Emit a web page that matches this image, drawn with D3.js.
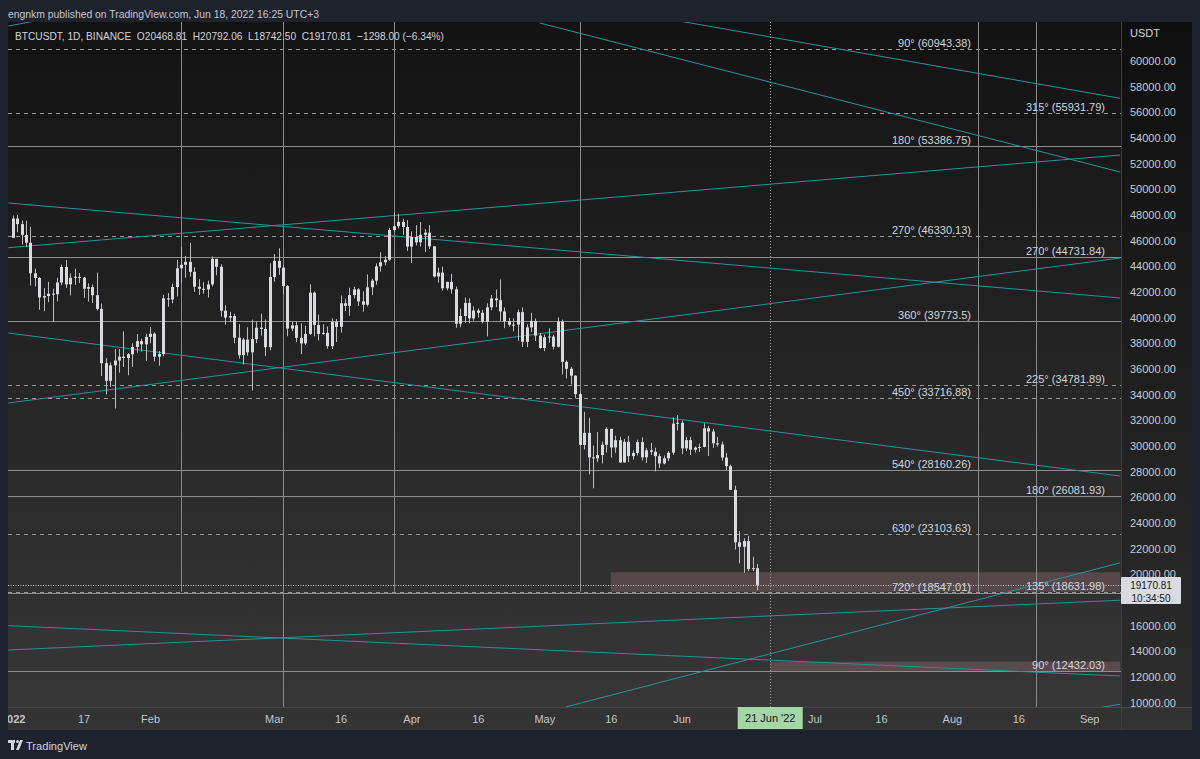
<!DOCTYPE html>
<html><head><meta charset="utf-8">
<script src="https://cdn.jsdelivr.net/npm/d3@7"></script>
<style>
html,body{margin:0;padding:0;background:#1e222d;}
svg{display:block;font-family:"Liberation Sans",Arial,sans-serif;}
</style></head><body>
<svg id="c" width="1200" height="759"></svg>
<script>
// ---------------- DATA ----------------
const firstDay = "2022-01-01"; // one daily candle per day from here
const opens = [
46217,47722,47286,46446,45833,43451,43082,41566,41680,41864,41822,42736,43950,42592,43099,43177,43114,42250,42375,41744,40680,36445,35071,36276,36654,36954,36852,37138,37712,38166,37918,
38498,38743,36952,37154,41500,41412,42380,43840,44118,44338,43565,42407,42244,42197,42586,44575,43961,40538,40000,40117,38431,37075,38286,37296,38328,39219,39116,37700,
43160,44421,43892,42454,39148,39398,38420,37988,38730,41941,39422,38730,38807,37777,39671,39280,41114,40917,41757,42201,41262,41002,42364,42882,43991,44313,44511,46827,47128,47465,47062,
45538,46281,45868,46453,46622,45555,43206,43503,42287,42782,42207,39521,40127,41147,39942,40552,40378,39678,40801,41493,41358,40480,39709,39441,39450,40426,38112,39235,39742,38596,
37630,38468,38525,37728,39690,36552,36013,35472,34038,30076,31017,29103,29029,29287,30086,31328,29874,30444,28715,30319,29201,29445,30293,29109,29655,29542,29201,28629,29031,29468,31734,
31801,29805,30452,29700,29864,29920,31373,31125,30204,30109,29091,28424,26574,22488,22136,22584,20401,20468.81];
const highs = [
47954,47990,47570,47557,47070,43816,43145,42300,42787,42249,43100,44135,44500,43448,43800,43476,43179,42662,42579,43505,41100,36836,36500,37550,37545,38920,37234,38000,38720,38359,38738,
39265,38855,37387,41772,41914,42656,44500,45492,44798,45821,43920,43000,42760,42876,44769,44583,44164,40959,40444,40300,39494,38429,39249,39843,39683,40300,39855,44225,
44950,45400,44102,42527,39693,39680,39547,39362,42594,42040,40236,39486,39310,39947,39887,41718,41478,42325,42400,42296,42048,43361,43025,44220,45094,44792,46999,48189,48096,47700,47600,
46720,47213,47444,46890,47200,45555,43900,43970,42800,43410,42414,40699,41561,41500,40870,40709,40595,41116,41760,42199,42976,40795,39980,39940,40617,40797,39474,40372,39925,38795,
38675,39167,38651,40023,39845,36666,36146,35510,34243,32659,32190,30032,31083,30343,31460,31328,30788,30709,30545,30777,29656,30487,30670,29837,30223,29856,29397,29250,29597,32222,32399,
31982,30690,30699,29955,30189,31765,31557,31330,30700,30334,29440,28544,26895,23362,22800,22985,21365,20792.06];
const lows = [
46208,46654,45696,45500,42500,42430,40611,40501,41200,39650,41268,42528,42311,41725,42555,42691,41541,41250,41139,40553,35440,34009,34602,32918,35702,36151,35507,36155,37268,37351,36633,
38000,36586,36250,36985,40843,41116,41645,42667,43117,43188,42000,41766,41870,41570,42428,43310,40073,39450,39639,38000,36800,36350,37036,34323,38015,38600,37000,37451,
42810,43334,41832,38550,38940,38087,37155,37867,38656,38540,38223,38660,37578,37555,38098,38828,40500,40135,41499,40911,40467,40875,41751,42560,43579,44071,44422,46663,46950,46445,45200,
44255,45620,45530,45118,45353,43121,42727,42107,42126,41868,39200,39254,39588,39551,39766,39991,39546,38536,40571,40820,39751,39177,39285,38929,38200,37702,37697,38881,38175,37578,
37386,38052,37517,37670,35571,35258,34785,33713,30033,29730,27785,26700,28751,28630,29480,29087,29450,28654,28691,28730,28947,29255,28866,28669,29294,28019,28282,28566,28815,29300,31200,
29360,29594,29282,29485,29531,29890,29218,29843,29944,28850,28100,26560,21925,20846,20111,20232,20246,18742.50];
const closes = [
47722,47286,46446,45833,43451,43082,41566,41680,41864,41822,42736,43950,42592,43099,43177,43114,42250,42375,41744,40680,36445,35071,36276,36654,36954,36852,37138,37712,38166,37918,38498,
38743,36952,37154,41500,41412,42380,43840,44118,44338,43565,42407,42244,42197,42586,44575,43961,40538,40000,40117,38431,37075,38286,37296,38328,39219,39116,37700,43160,
44421,43892,42454,39148,39398,38420,37988,38730,41941,39422,38730,38807,37777,39671,39280,41114,40917,41757,42201,41262,41002,42364,42882,43991,44313,44511,46827,47128,47465,47062,45538,
46281,45868,46453,46622,45555,43206,43503,42287,42782,42207,39521,40127,41147,39942,40552,40378,39678,40801,41493,41358,40480,39709,39441,39450,40426,38112,39235,39742,38596,37630,
38468,38525,37728,39690,36552,36013,35472,34038,30076,31017,29103,29029,29287,30086,31328,29874,30444,28715,30319,29201,29445,30293,29109,29655,29542,29201,28629,29031,29468,31734,31801,
29805,30452,29700,29864,29920,31373,31125,30204,30109,29091,28424,26574,22488,22136,22584,20401,20468,19170.81];

// 18000 is hidden behind the last-price box in the reference
const priceTicks = [10000,12000,14000,16000,20000,22000,24000,26000,28000,30000,32000,34000,36000,38000,40000,42000,44000,46000,48000,50000,52000,54000,56000,58000,60000];
const timeTickDates = ["2022-01-01","2022-01-17","2022-02-01","2022-03-01","2022-03-16","2022-04-01","2022-04-16","2022-05-01","2022-05-16","2022-06-01","2022-07-01","2022-07-16","2022-08-01","2022-08-16","2022-09-01"];
const timeTickLabels = ["2022","17","Feb","Mar","16","Apr","16","May","16","Jun","Jul","16","Aug","16","Sep"];

// Gann levels: value, label, dashed?, column
const levelValues = [60943.38,53386.75,46330.13,39773.5,33716.88,28160.26,23103.63,18547.01, 55931.79,44731.84,34781.89,26081.93,18631.98,12432.03];
const levelLabels = ["90° (60943.38)","180° (53386.75)","270° (46330.13)","360° (39773.5)","450° (33716.88)","540° (28160.26)","630° (23103.63)","720° (18547.01)",
                     "315° (55931.79)","270° (44731.84)","225° (34781.89)","180° (26081.93)","135° (18631.98)","90° (12432.03)"];
const levelDashed = [true,false,true,false,true,false,true,false, true,false,true,false,true,false];
const levelColumn = [0,0,0,0,0,0,0,0, 1,1,1,1,1,1];

// vertical time lines (date, lowest price reached; null = full height)
const vLineDates = ["2022-02-08","2022-03-03","2022-03-28","2022-05-09","2022-08-07","2022-08-20"];
const vLineBottoms = [18632,null,18632,18632,18632,null];

// trend lines: [startDate, startPrice, endDate, endPrice]
const trendLines = [
  ["2022-04-30",62960,"2022-09-08",51347],
  ["2022-06-01",63085,"2022-09-08",57091],
  ["2021-12-31",45447,"2022-09-08",52672],
  ["2021-12-31",48931,"2022-09-08",41527],
  ["2021-12-31",33343,"2022-09-08",44644],
  ["2021-12-31",38799,"2022-09-08",27653],
  ["2022-05-06",9665,"2022-09-08",20888],
  ["2021-12-31",14092,"2022-09-08",17973],
  ["2021-12-31",15986,"2022-09-08",12065],
  ["2022-08-30",9361,"2022-09-08",9860],
  ["2021-12-31",62727,"2022-01-11",63428]
];

// shaded zones
const zoneStarts = ["2022-05-16","2022-06-21"];
const zoneTops = [20150,13180];
const zoneBottoms = [18632,12432];

const lastPrice = 19170.81;
const crossDate = "2022-06-21";

// ---------------- CHART ----------------
const svg = d3.select("#c");
const P = {x0:8, x1:1121, y0:22, y1:707, ax1:1192, tb:730};
const parse = d3.utcParse("%Y-%m-%d");
const day0 = parse(firstDay);
const x = d3.scaleUtc().domain([parse("2022-01-01"), parse("2022-09-01")]).range([12.7, 12.7 + 243*4.43]);
const y = d3.scaleLinear().domain([10000, 60000]).range([702.5, 61]);

const defs = svg.append("defs");
const grad = defs.append("linearGradient").attr("id","bg").attr("x1",0).attr("y1",0).attr("x2",0).attr("y2",1);
grad.append("stop").attr("offset","0%").attr("stop-color","#121212");
grad.append("stop").attr("offset","100%").attr("stop-color","#383838");
defs.append("clipPath").attr("id","plotclip").append("rect")
  .attr("x",P.x0).attr("y",P.y0).attr("width",P.x1-P.x0).attr("height",P.y1-P.y0);
defs.append("clipPath").attr("id","timeclip").append("rect")
  .attr("x",P.x0).attr("y",P.y1).attr("width",P.x1-P.x0).attr("height",P.tb-P.y1);

svg.append("rect").attr("width",1200).attr("height",759).attr("fill","#1e222d");
svg.append("rect").attr("x",P.x0).attr("y",P.y0).attr("width",P.ax1-P.x0).attr("height",P.tb-P.y0).attr("fill","url(#bg)");
svg.append("rect").attr("x",P.x1).attr("y",P.y0).attr("width",P.ax1-P.x1).attr("height",P.y1-P.y0).attr("fill","rgba(0,0,0,0.18)");
svg.append("rect").attr("x",P.x0).attr("y",P.y1).attr("width",P.ax1-P.x0).attr("height",P.tb-P.y1).attr("fill","rgba(0,0,0,0.08)");
svg.append("line").attr("x1",P.x1+0.5).attr("x2",P.x1+0.5).attr("y1",P.y0).attr("y2",P.tb).attr("stroke","#3c3c3c");
svg.append("line").attr("x1",P.x0).attr("x2",P.ax1).attr("y1",P.y1+0.5).attr("y2",P.y1+0.5).attr("stroke","#484848");

const plot = svg.append("g").attr("clip-path","url(#plotclip)");
const rightEdge = parse("2022-09-08");

// zones
plot.selectAll("rect.zone").data(zoneStarts).join("rect").attr("class","zone")
  .attr("x",d=>x(parse(d))).attr("width",(d)=>x(rightEdge)-x(parse(d)))
  .attr("y",(d,i)=>y(zoneTops[i])).attr("height",(d,i)=>y(zoneBottoms[i])-y(zoneTops[i]))
  .attr("fill","rgba(150,110,118,0.38)");

// horizontal levels
plot.selectAll("line.lvl").data(levelValues).join("line").attr("class","lvl")
  .attr("x1",P.x0).attr("x2",P.x1)
  .attr("y1",d=>Math.round(y(d))+0.5).attr("y2",d=>Math.round(y(d))+0.5)
  .attr("stroke",(d,i)=>levelDashed[i]?"#9a9a9a":"#8e8e8e")
  .attr("stroke-dasharray",(d,i)=>levelDashed[i]?"4,4":null);

// vertical lines
plot.selectAll("line.vl").data(vLineDates).join("line").attr("class","vl")
  .attr("x1",d=>Math.round(x(parse(d)))+0.5).attr("x2",d=>Math.round(x(parse(d)))+0.5)
  .attr("y1",P.y0).attr("y2",(d,i)=>vLineBottoms[i]==null?P.y1:y(vLineBottoms[i]))
  .attr("stroke","#8a8a8a");

// crosshair
plot.append("line").attr("x1",Math.round(x(parse(crossDate)))+0.5).attr("x2",Math.round(x(parse(crossDate)))+0.5)
  .attr("y1",P.y0).attr("y2",P.y1).attr("stroke","#9a9a9a").attr("stroke-dasharray","1,2");

// trend lines
plot.selectAll("line.tl").data(trendLines).join("line").attr("class","tl")
  .attr("x1",d=>x(parse(d[0]))).attr("y1",d=>y(d[1]))
  .attr("x2",d=>x(parse(d[2]))).attr("y2",d=>y(d[3]))
  .attr("stroke","#2a9298").attr("stroke-width",1);

// last price dotted line
plot.append("line").attr("x1",P.x0).attr("x2",P.x1)
  .attr("y1",Math.round(y(lastPrice))+0.5).attr("y2",Math.round(y(lastPrice))+0.5)
  .attr("stroke","#c8c8c8").attr("stroke-dasharray","1,1.5");

// candles
const candles = closes.map((c,i)=>({d:d3.utcDay.offset(day0,i),o:opens[i],h:highs[i],l:lows[i],c:c}));
const cg = plot.append("g");
cg.selectAll("line.wick").data(candles).join("line").attr("class","wick")
  .attr("x1",d=>Math.round(x(d.d))+0.5).attr("x2",d=>Math.round(x(d.d))+0.5)
  .attr("y1",d=>y(d.h)).attr("y2",d=>y(d.l)).attr("stroke","#bdbdbd");
cg.selectAll("rect.body").data(candles).join("rect").attr("class","body")
  .attr("x",d=>Math.round(x(d.d))-1).attr("width",3)
  .attr("y",d=>y(Math.max(d.o,d.c))).attr("height",d=>Math.max(1,Math.abs(y(d.o)-y(d.c))))
  .attr("fill","#dadbde");

// level labels
plot.selectAll("text.lbl").data(levelValues).join("text").attr("class","lbl")
  .attr("x",(d,i)=>levelColumn[i]===0?971:1105)
  .attr("y",d=>y(d)-2)
  .attr("text-anchor","end").attr("font-size",11).attr("fill","#d1d4dc")
  .text((d,i)=>levelLabels[i]);

// price axis
const ya = svg.append("g").attr("transform",`translate(${P.x1},0)`)
  .call(d3.axisRight(y).tickValues(priceTicks).tickFormat(d=>d.toFixed(2)).tickSize(0).tickPadding(9));
ya.select(".domain").remove();
ya.selectAll("text").attr("fill","#c9cbd1").attr("font-size",11).attr("font-family","Liberation Sans, Arial, sans-serif");
svg.append("text").attr("x",1130).attr("y",37).attr("font-size",11).attr("fill","#d1d4dc").text("USDT");

// last price box
svg.append("rect").attr("x",1121).attr("y",577).attr("width",60).attr("height",27).attr("fill","#d9dbe0").attr("rx",1);
svg.append("text").attr("x",1151).attr("y",589).attr("text-anchor","middle").attr("font-size",10).attr("fill","#131722").text(lastPrice.toFixed(2));
svg.append("text").attr("x",1151).attr("y",601.5).attr("text-anchor","middle").attr("font-size",10).attr("fill","#131722").text("10:34:50");

// time axis
const xa = svg.append("g").attr("clip-path","url(#timeclip)").append("g").attr("transform",`translate(0,${P.y1})`)
  .call(d3.axisBottom(x).tickValues(timeTickDates.map(parse)).tickFormat((d,i)=>timeTickLabels[i]).tickSize(0).tickPadding(8));
xa.select(".domain").remove();
xa.selectAll("text").attr("fill","#c2c4ca").attr("font-size",11).attr("font-family","Liberation Sans, Arial, sans-serif")
  .attr("font-weight",(d,i)=>i===0?"bold":null);

// crosshair date label
const cx = x(parse(crossDate));
svg.append("rect").attr("x",cx-32.5).attr("y",707).attr("width",65).attr("height",22).attr("fill","#a5d6a7");
svg.append("text").attr("x",cx).attr("y",722).attr("text-anchor","middle").attr("font-size",11).attr("fill","#131722").text("21 Jun '22");

// headers
svg.append("text").attr("x",8).attr("y",18).attr("font-size",11.5).attr("fill","#c3c6ce")
  .attr("textLength",311).attr("lengthAdjust","spacingAndGlyphs")
  .text("engnkm published on TradingView.com, Jun 18, 2022 16:25 UTC+3");
svg.append("text").attr("x",15).attr("y",39.5).attr("font-size",11.5).attr("fill","#d1d4dc").attr("xml:space","preserve")
  .attr("textLength",429).attr("lengthAdjust","spacingAndGlyphs")
  .text("BTCUSDT, 1D, BINANCE  O20468.81  H20792.06  L18742.50  C19170.81  \u22121298.00 (\u22126.34%)");

// logo
const lg = svg.append("g").attr("fill","#d1d4dc");
lg.append("rect").attr("x",8).attr("y",740).attr("width",7).attr("height",3);
lg.append("rect").attr("x",11).attr("y",740).attr("width",3).attr("height",10);
lg.append("circle").attr("cx",17.5).attr("cy",741.5).attr("r",1.5);
lg.append("path").attr("d","M16,750 L20,740 L23,740 L19,750 Z");
svg.append("text").attr("x",26).attr("y",749.5).attr("font-size",11.5).attr("fill","#d1d4dc")
  .attr("textLength",61).attr("lengthAdjust","spacingAndGlyphs").text("TradingView");
</script>
</body></html>
